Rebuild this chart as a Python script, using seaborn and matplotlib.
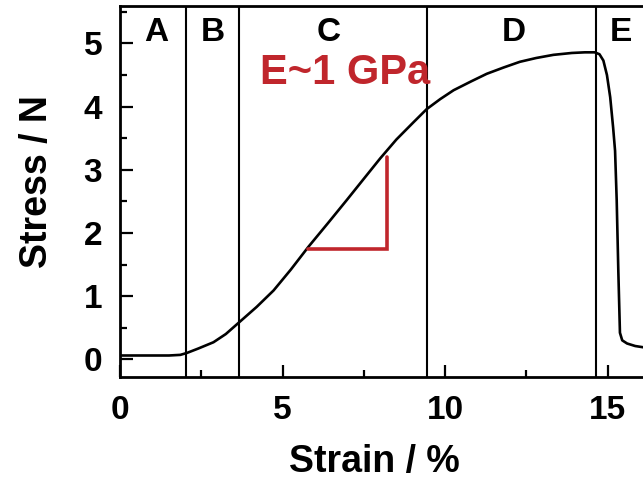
import matplotlib
matplotlib.use("Agg")
import matplotlib.pyplot as plt
import pandas as pd
import seaborn as sns
from matplotlib.ticker import MultipleLocator

# Stress-strain curve
strain = [0.0, 0.5, 1.0, 1.5, 1.85, 2.05, 2.4, 2.87, 3.25, 3.67, 4.2, 4.72,
          5.25, 5.79, 6.4, 6.97, 7.5, 8.0, 8.5, 9.02, 9.43, 9.85, 10.26,
          10.8, 11.28, 11.8, 12.3, 12.8, 13.33, 13.9, 14.3, 14.6, 14.75,
          14.87, 14.98, 15.08, 15.17, 15.23, 15.28, 15.33, 15.38, 15.45,
          15.6, 15.85, 16.1, 16.5]
stress = [0.06, 0.06, 0.06, 0.06, 0.07, 0.1, 0.17, 0.27, 0.4, 0.59, 0.83, 1.09,
          1.42, 1.78, 2.16, 2.52, 2.86, 3.18, 3.48, 3.75, 3.96, 4.12, 4.26,
          4.4, 4.52, 4.62, 4.71, 4.77, 4.82, 4.85, 4.86, 4.86, 4.83,
          4.73, 4.5, 4.15, 3.67, 3.3, 2.52, 1.4, 0.42, 0.3,
          0.25, 0.21, 0.19, 0.18]

# Region boundaries and labels
boundaries = [2.03, 3.67, 9.45, 14.63]
region_labels = ["A", "B", "C", "D", "E"]
region_x = [1.1, 2.86, 6.4, 12.1, 15.4]

# Slope triangle for the modulus note
tri_x = [5.79, 8.22, 8.22]
tri_y = [1.75, 1.75, 3.2]

df = pd.DataFrame({"Strain": strain, "Stress": stress})

sns.set_style("ticks")
plt.rcParams['font.family'] = ['Liberation Sans', 'DejaVu Sans']
plt.rcParams['font.weight'] = 'bold'
plt.rcParams['text.color'] = 'black'
plt.rcParams['axes.labelcolor'] = 'black'
plt.rcParams['xtick.color'] = 'black'
plt.rcParams['ytick.color'] = 'black'
plt.rcParams['axes.edgecolor'] = 'black'

fig = plt.figure(figsize=(6.43, 4.79), dpi=100)
ax = fig.add_axes([0.187, 0.213, 0.859, 0.774])

sns.lineplot(data=df, x="Strain", y="Stress", ax=ax, color="black",
             linewidth=1.9, estimator=None, sort=False)

for b in boundaries:
    ax.axvline(b, color="black", linewidth=1.5)

for lab, xx in zip(region_labels, region_x):
    ax.text(xx, 5.17, lab, ha="center", va="center", fontsize=24,
            fontweight="bold", color="black")

red = "#c0262c"
ax.plot(tri_x, tri_y, color=red, linewidth=2.6, solid_joinstyle="miter")
ax.text(4.3, 4.53, "E~1 GPa", color=red, fontsize=30, fontweight="bold",
        ha="left", va="center")

ax.set_xlim(0, 17)
ax.set_ylim(-0.28, 5.59)
ax.xaxis.set_major_locator(MultipleLocator(5))
ax.xaxis.set_minor_locator(MultipleLocator(2.5))
ax.yaxis.set_major_locator(MultipleLocator(1))
ax.yaxis.set_minor_locator(MultipleLocator(0.5))
ax.tick_params(which="both", direction="in", width=1.6, top=False, right=False,
               labelsize=24, pad=13)
ax.tick_params(which="major", length=9)
ax.tick_params(which="minor", length=5)
for lbl in ax.get_xticklabels() + ax.get_yticklabels():
    lbl.set_fontweight("bold")

for s in ax.spines.values():
    s.set_linewidth(2.0)

ax.set_xlabel("Strain / %", fontsize=27, fontweight="bold")
ax.set_ylabel("Stress / N", fontsize=27, fontweight="bold")
ax.xaxis.set_label_coords(0.46, -0.23)
ax.xaxis.label.set_va("center")
ax.yaxis.set_label_coords(-0.15, 0.526)
ax.yaxis.label.set_va("center")

fig.savefig("out.png", dpi=100)
